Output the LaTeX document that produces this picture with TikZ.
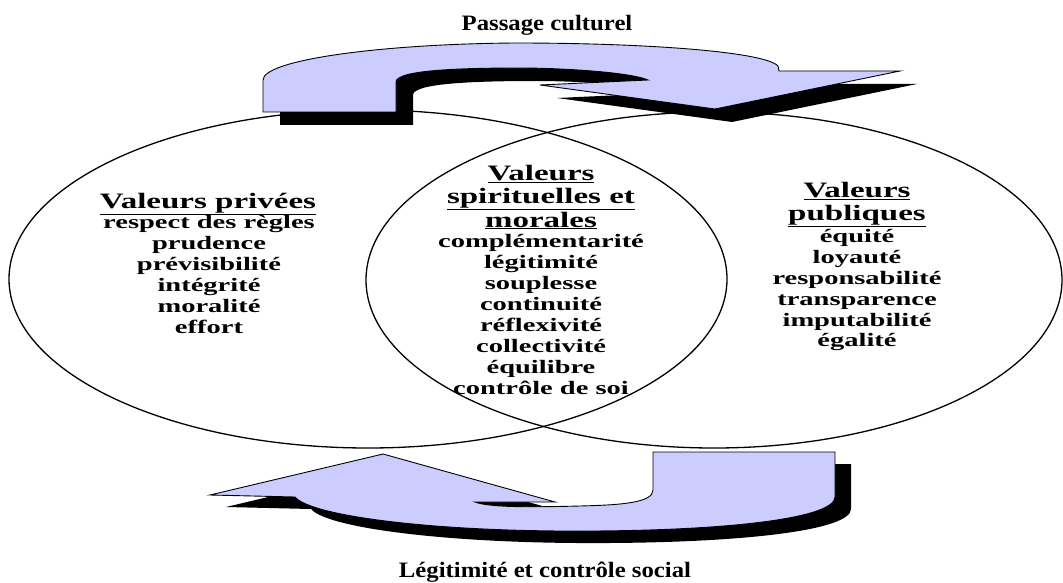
\documentclass[tikz,border=0pt]{standalone}
\usepackage{fontspec}
\setmainfont{Liberation Serif}[FakeStretch=1.5]
\definecolor{lav}{RGB}{204,204,255}
\begin{document}
\begin{tikzpicture}[x=1pt,y=-1pt,
  ell/.style={line width=1.3pt},
  band/.style={fill=lav, draw=black, line width=0.9pt, line join=miter},
  shadowband/.style={fill=black},
  ttl/.style={font=\fontsize{22}{24}\selectfont\bfseries, inner sep=0pt, anchor=base},
  itm/.style={font=\fontsize{19}{21}\selectfont\bfseries, inner sep=0pt, anchor=base},
  captxt/.style={font=\fontsize{22}{24}\selectfont\bfseries, inner sep=0pt, anchor=base}]
\useasboundingbox[fill=white] (0,0) rectangle (1063,583);

% ellipses
\draw[ell] (368,279) ellipse [x radius=359pt, y radius=169pt];
\draw[ell] (714,280) ellipse [x radius=348pt, y radius=168pt];

% top arrow
\def\toparrow{(263,112) -- (263,80) .. controls (263,60) and (380,44) .. (515,43) .. controls (650,43) and (765,52) .. (778,66) -- (779,71) -- (900,71) -- (715,109) -- (540,85) -- (648,80) .. controls (630,72) and (560,68) .. (520,68) .. controls (460,68) and (396,70) .. (396,82) -- (396,112) -- cycle}
\fill[shadowband, shift={(17,13)}] \toparrow;
\filldraw[band] \toparrow;

% bottom arrow
\def\botarrow{(210,495) -- (383,454) -- (555,502) -- (475,502) .. controls (490,508) and (540,507) .. (580,506) .. controls (620,505) and (653,503) .. (653,490) -- (653,452) -- (835,452) -- (835,497) .. controls (835,519) and (720,532) .. (560,531) .. controls (420,530) and (310,515) .. (295,497) -- cycle}
\fill[shadowband, shift={(16,12)}] \botarrow;
\filldraw[band] \botarrow;

% captions
\node[captxt] (top) at (547,31) {\scalebox{0.75}[1]{Passage culturel}};
\node[captxt] (bot) at (545,577) {\scalebox{0.75}[1]{Légitimité et contrôle social}};

% left block
\node[ttl] (lt) at (208,208) {\underline{Valeurs privées}};
\foreach \t [count=\i] in {respect des règles, prudence, prévisibilité, intégrité, moralité, effort}
  \node[itm] (l\i) at (209,{207+21*\i}) {\t};

% middle block
\node[ttl] (mt1) at (541,180) {\underline{Valeurs}};
\node[ttl] (mt2) at (541,203) {\underline{spirituelles et}};
\node[ttl] (mt3) at (541,227) {\underline{morales}};
\foreach \t [count=\i] in {complémentarité, légitimité, souplesse, continuité, réflexivité, collectivité, équilibre, contrôle de soi}
  \node[itm] (m\i) at (541,{226+21.1*\i}) {\t};

% right block
\node[ttl] (rt1) at (857,197) {\underline{Valeurs}};
\node[ttl] (rt2) at (857,220) {\underline{publiques}};
\foreach \t [count=\i] in {équité, loyauté, responsabilité, transparence, imputabilité, égalité}
  \node[itm] (r\i) at (857,{222+20.8*\i}) {\t};
\end{tikzpicture}
\end{document}
